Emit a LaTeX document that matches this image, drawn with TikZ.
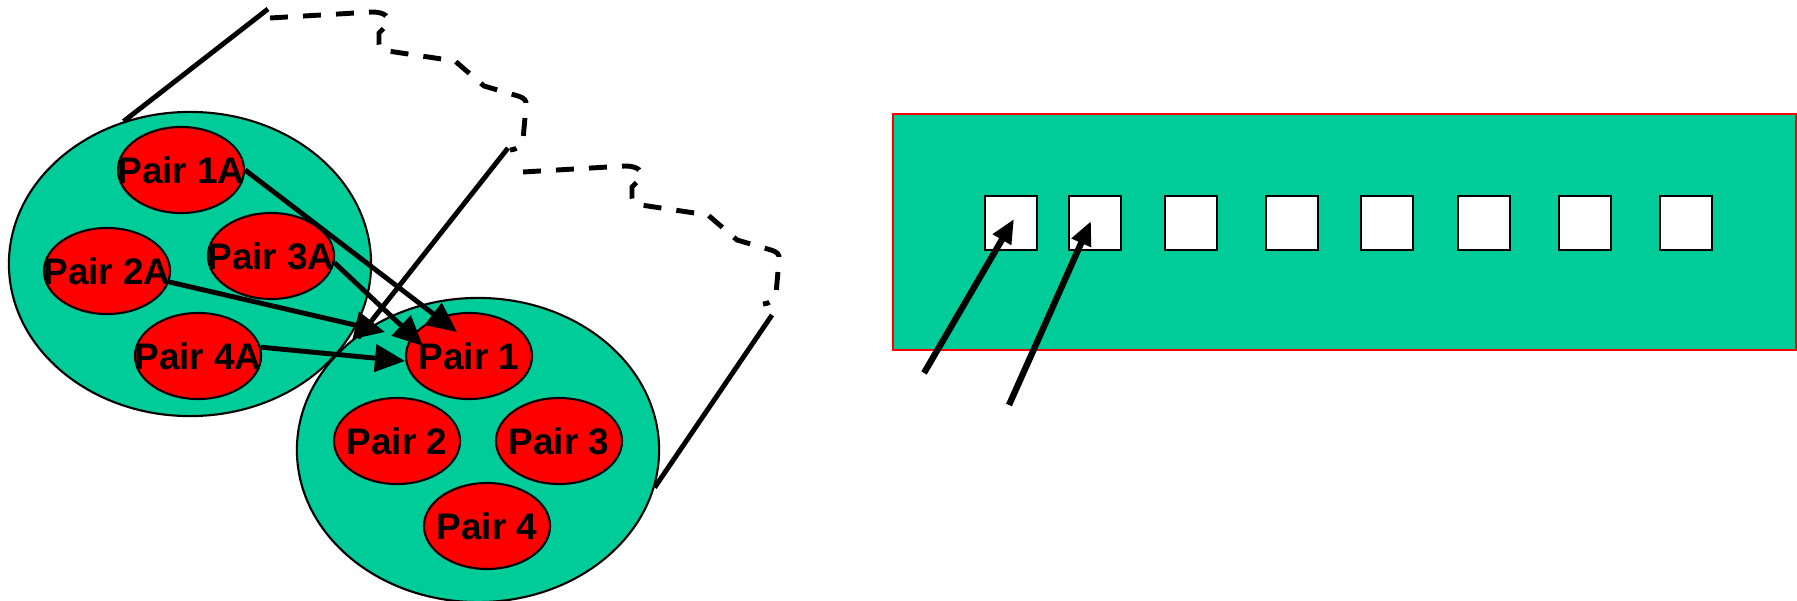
\documentclass[tikz,border=0pt]{standalone}
\usepackage{fontspec}
\setmainfont{Liberation Sans}
\usetikzlibrary{arrows.meta,shapes.geometric}
\definecolor{cabteal}{RGB}{0,204,153}

\begin{document}
\begin{tikzpicture}[x=0.01cm,y=-0.01cm,font=\bfseries\fontsize{10.5}{12}\selectfont,
 zone/.style={draw,ellipse,fill=cabteal,line width=0.6pt,inner sep=0pt,minimum width=3.62cm,minimum height=3.04cm},
 pair/.style={draw,ellipse,fill=red,line width=0.6pt,inner sep=0pt,minimum width=1.26cm,minimum height=0.86cm,label=center:{#1}},
 port/.style={draw,fill=white,line width=0.8pt,inner sep=0pt,minimum width=0.52cm,minimum height=0.54cm},
 wire/.style={line width=1.4pt},
 link/.style={line width=1.4pt,-{Triangle[length=0.3cm,width=0.27cm]}},
 plug/.style={line width=1.8pt,-{Triangle[length=0.24cm,width=0.2cm]}}]
\useasboundingbox (0,0) rectangle (1797,600);
% the two cable ends
\node[zone] (bl) at (190,264) {};
\node[zone] (br) at (478,450) {};
\node[pair=Pair 1A] (p1a) at (181,170) {};
\node[pair=Pair 2A] (p2a) at (107,271) {};
\node[pair=Pair 3A] (p3a) at (271,256) {};
\node[pair=Pair 4A] (p4a) at (198,356) {};
\node[pair=Pair 1] (p1) at (469,356) {};
\node[pair=Pair 2] (p2) at (397,441) {};
\node[pair=Pair 3] (p3) at (559,441) {};
\node[pair=Pair 4] (p4) at (487,526) {};
% cable outline
\coordinate (c1) at (268,9);
\coordinate (c2) at (508,148);
\coordinate (c3) at (358,338);
\coordinate (c4) at (772,315);
\draw[wire] (bl.115) -- (c1);
\draw[wire] (c2) -- (c3);
\draw[wire] (c4) -- (br.-12);
\foreach \dx/\dy in {0/0,253/154}
 \draw[wire,dash pattern=on 5.1pt off 4.3pt,shift={(\dx,\dy)}]
  (270,18) -- (372,12) .. controls (386,12) and (390,18) .. (388,24) -- (379,33) -- (379,44)
  .. controls (379,49) and (382,51) .. (388,51) -- (455,61) -- (484,86) -- (518,96)
  .. controls (524,98) and (527,100) .. (526,106) -- (523,140)
  .. controls (522,146) and (518,149) .. (510,150);
% crossed pairs
\draw[link] (p1a.east) -- ([shift={(-12,-24)}]p1.center);
\draw[link] (p3a.-6) -- ([shift={(-46,-10)}]p1.center);
\draw[link] (p2a.-10) -- ([shift={(-84,-24)}]p1.center);
\draw[link] (p4a.8) -- ([shift={(-64,5)}]p1.center);
% jack panel
\node[draw=red,fill=cabteal,line width=0.7pt,inner sep=0pt,minimum width=9.03cm,minimum height=2.36cm] (panel) at (1344.5,232) {};
\foreach \n/\x in {1/1011,2/1095,3/1191,4/1292,5/1387,6/1484,7/1585,8/1686}
 \node[port] (s\n) at (\x,223) {};
\coordinate (w1) at (924,373);
\coordinate (w2) at (1009,405);
\draw[plug] (w1) -- ([shift={(3,-4)}]s1.center);
\draw[plug] (w2) -- ([shift={(-4,-2)}]s2.center);
\end{tikzpicture}
\end{document}
